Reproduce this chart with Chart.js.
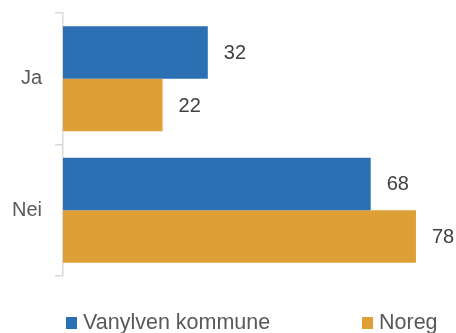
<!DOCTYPE html>
<html>
<head>
<meta charset="utf-8">
<script src="https://cdn.jsdelivr.net/npm/chart.js@4/dist/chart.umd.min.js"></script>
<style>
  html, body { margin: 0; padding: 0; background: #fff; }
  #wrap { width: 456px; height: 333px; }
</style>
</head>
<body>
<div id="wrap"><canvas id="myChart"></canvas></div>
<script>
const categories = ['Ja', 'Nei']
const seriesNames = ['Vanylven kommune', 'Noreg']
const vanylven = [32, 68]
const noreg = [22, 78]
const colors = ['#2C70B4', '#DF9F37']

const FONT = '"Liberation Sans", Arial, sans-serif'

// writes the value just past the end of each bar
const valueLabels = {
    id: 'valueLabels',
    afterDatasetsDraw(chart) {
        const ctx = chart.ctx
        ctx.save()
        ctx.font = '20px ' + FONT
        ctx.fillStyle = '#404040'
        ctx.textAlign = 'left'
        ctx.textBaseline = 'middle'
        chart.data.datasets.forEach((ds, i) => {
            chart.getDatasetMeta(i).data.forEach((bar, j) => {
                ctx.fillText(ds.data[j], bar.x + 16, bar.y + 1)
            })
        })
        ctx.restore()
    }
}

// legend along the bottom: one entry at the left, one at the right
const bottomLegend = {
    id: 'bottomLegend',
    afterDraw(chart) {
        const ctx = chart.ctx
        const area = chart.chartArea
        const y = chart.height - 4
        const starts = [area.left + 3, area.right - 63]
        ctx.save()
        ctx.font = '21.5px ' + FONT
        ctx.textBaseline = 'alphabetic'
        ctx.textAlign = 'left'
        chart.data.datasets.forEach((ds, i) => {
            ctx.fillStyle = ds.backgroundColor
            ctx.fillRect(starts[i], y - 12, 11, 12)
            ctx.fillStyle = '#595959'
            ctx.fillText(ds.label, starts[i] + 17, y)
        })
        ctx.restore()
    }
}

const ctx = document.getElementById('myChart')

new Chart(ctx, {
    type: 'bar',
    data: {
        labels: categories,
        datasets: [{
            label: seriesNames[0],
            data: vanylven,
            backgroundColor: colors[0],
            categoryPercentage: 0.8,
            barPercentage: 1.0
        }, {
            label: seriesNames[1],
            data: noreg,
            backgroundColor: colors[1],
            categoryPercentage: 0.8,
            barPercentage: 1.0
        }]
    },
    options: {
        indexAxis: 'y',
        responsive: true,
        maintainAspectRatio: false,
        animation: false,
        layout: {
            padding: { top: 13, right: 31, left: 0, bottom: 57 }
        },
        scales: {
            x: {
                display: false,
                min: 0,
                max: 80
            },
            y: {
                afterFit: (scale) => {
                    scale.width = 63
                    scale.paddingTop = 0
                    scale.paddingBottom = 0
                },
                border: { display: true, color: '#D9D9D9', width: 1.5 },
                grid: {
                    display: true,
                    offset: true,
                    drawOnChartArea: false,
                    drawTicks: true,
                    tickLength: 8,
                    color: '#D9D9D9',
                    lineWidth: 1.5
                },
                ticks: {
                    padding: 13,
                    color: '#595959',
                    font: { family: FONT, size: 20 }
                }
            }
        },
        plugins: {
            legend: { display: false },
            tooltip: { enabled: false }
        }
    },
    plugins: [valueLabels, bottomLegend]
})
</script>
</body>
</html>
